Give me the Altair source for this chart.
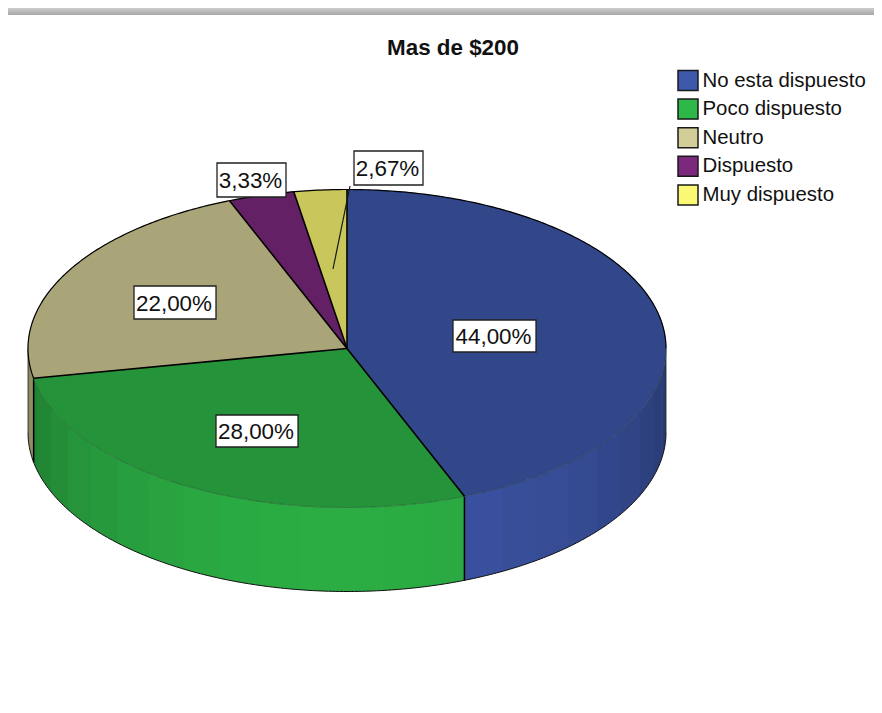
import math
import altair as alt

categories = ["No esta dispuesto", "Poco dispuesto", "Neutro", "Dispuesto", "Muy dispuesto"]
values = [44.0, 28.0, 22.0, 3.33, 2.67]
labels = ["44,00%", "28,00%", "22,00%", "3,33%", "2,67%"]
base_colors = ["#3E58AC", "#2EB848", "#D3CE97", "#7C287D", "#FBF873"]

W, H = 866, 697
CX, CY, RX, RY, DEPTH = 339.0, 340.5, 319.0, 159.0, 84.0
FONT = "Liberation Sans"


def ux(px):
    return (px - CX) / RX


def uy(py):
    return (CY - py) / RY


# label boxes, page geometry minus the 8px margin: left, top, right, bottom
label_boxes = [(445, 312, 528, 344), (208, 407, 290, 439), (126, 278, 208, 311),
               (209, 155, 278, 189), (346, 143, 415, 177)]
leader = [(342, 178), (325, 261)]

x_scale = alt.Scale(domain=[ux(0), ux(W)], range=[0, W], nice=False, zero=False)
y_scale = alt.Scale(domain=[uy(H), uy(0)], range=[H, 0], nice=False, zero=False)
X = alt.X("x:Q", scale=x_scale, axis=None)
Y = alt.Y("y:Q", scale=y_scale, axis=None)


def shade(hex_color, f):
    r, g, b = (int(hex_color[i:i + 2], 16) for i in (1, 3, 5))
    return "#%02x%02x%02x" % (round(r * f), round(g * f), round(b * f))


def pt(deg, drop=0.0):
    a = math.radians(deg)
    return math.sin(a), math.cos(a) - drop / RY


def arc(a0, a1, drop=0.0):
    n = max(2, int(abs(a1 - a0) * 1.5) + 1)
    return [pt(a0 + (a1 - a0) * i / (n - 1), drop) for i in range(n)]


def path(points, **mark):
    rows = [{"x": p[0], "y": p[1], "i": i} for i, p in enumerate(points)]
    return alt.Chart(alt.Data(values=rows)).mark_line(
        interpolate="linear", clip=False, **mark
    ).encode(x=X, y=Y, order="i:Q")


edges = [0.0]
for v in values:
    edges.append(edges[-1] + v * 3.6)

layers = []

# shadow strip along the top of the picture
layers.append(
    alt.Chart(alt.Data(values=[{"a": 0}])).mark_rect(
        color=alt.LinearGradient(
            gradient="linear", x1=0, x2=0, y1=0, y2=1,
            stops=[alt.GradientStop(color="#cccccc", offset=0),
                   alt.GradientStop(color="#a8a8a8", offset=1)],
        )
    ).encode(x=alt.value(0), x2=alt.value(W), y=alt.value(0), y2=alt.value(7))
)

BAND = 7.5


def wall(a0, a1, color, towards_front_first=False):
    """Shaded wall made of narrow vertical bands; every band overlaps the one
    drawn after it so that no seams show."""
    cuts = [a0]
    k = 0.9 + BAND * (math.floor((a0 - 0.9) / BAND) + 1)
    while k < a1:
        cuts.append(k)
        k += BAND
    cuts.append(a1)
    bands = list(zip(cuts[:-1], cuts[1:]))
    if towards_front_first:
        bands = bands[::-1]
    for s, e in bands:
        mid = math.radians((s + e) / 2)
        f = 0.64 + 0.30 * abs(math.cos(mid))
        c = shade(color, f)
        if towards_front_first:
            s2, e2 = s - 0.6 if s > a0 else s, e
        else:
            s2, e2 = s, e + 0.6 if e < a1 else e
        poly = arc(s2, e2) + arc(e2, s2, DEPTH)
        layers.append(path(poly + poly[:1], fill=c, strokeWidth=0, stroke="transparent"))


# side walls: neutral (left), no esta (right), poco (front)
wall(edges[2], 270.0, base_colors[2])
wall(90.0, edges[1], base_colors[0])
wall(edges[1], edges[2], base_colors[1], towards_front_first=True)

# wall outlines
layers.append(path(arc(90.0, 270.0, DEPTH), stroke="#101010", strokeWidth=1.0))
layers.append(path([pt(90.0), pt(90.0, DEPTH)], stroke="#202020", strokeWidth=0.8))
layers.append(path([pt(270.0), pt(270.0, DEPTH)], stroke="#202020", strokeWidth=0.8))
layers.append(path([pt(edges[1]), pt(edges[1], DEPTH)], stroke="black", strokeWidth=1.5))
layers.append(path([pt(edges[2]), pt(edges[2], DEPTH)], stroke="black", strokeWidth=1.5))

# top faces
for i, c in enumerate(base_colors):
    poly = [(0.0, 0.0)] + arc(edges[i], edges[i + 1]) + [(0.0, 0.0)]
    top = shade(c, 0.8)
    layers.append(path(poly, fill=top, stroke=top, strokeWidth=0.4))

# seam of the front edge, outline of the back edge, radial separators
layers.append(path(arc(90.0, edges[2]), stroke="#143018", strokeWidth=0.5, opacity=0.7))
layers.append(path(arc(edges[2], 450.0), stroke="black", strokeWidth=1.2))
for e in edges[:-1]:
    layers.append(path([(0.0, 0.0), pt(e)], stroke="black", strokeWidth=1.6))

# leader of the smallest slice
layers.append(path([(ux(leader[0][0]), uy(leader[0][1])), (ux(leader[1][0]), uy(leader[1][1]))],
                   stroke="#181818", strokeWidth=1.2))

# value labels
rows = [{"label": t, "x": ux(b[0]), "x2": ux(b[2]), "y": uy(b[1]), "y2": uy(b[3]),
         "xc": ux((b[0] + b[2]) / 2), "yc": uy((b[1] + b[3]) / 2)}
        for t, b in zip(labels, label_boxes)]
label_data = alt.Data(values=rows)
layers.append(
    alt.Chart(label_data).mark_rect(fill="white", stroke="#202020", strokeWidth=1.3).encode(
        x=X, x2="x2:Q", y=Y, y2="y2:Q"
    )
)
layers.append(
    alt.Chart(label_data).mark_text(font=FONT, fontSize=22.4, color="#111111", align="center",
                                    baseline="middle", dy=1, dx=-1).encode(
        x=alt.X("xc:Q", scale=x_scale, axis=None),
        y=alt.Y("yc:Q", scale=y_scale, axis=None),
        text="label:N",
    )
)

# legend carrier
legend_rows = [{"cat": c, "x": 0, "y": 0} for c in categories]
layers.append(
    alt.Chart(alt.Data(values=legend_rows)).mark_square(size=0, opacity=0).encode(
        x=X, y=Y,
        fill=alt.Fill(
            "cat:N",
            scale=alt.Scale(domain=categories, range=base_colors),
            sort=None,
            legend=alt.Legend(
                title=None, orient="none", legendX=669, legendY=61.5,
                symbolType="square", symbolSize=400, symbolStrokeColor="#1a1a1a",
                symbolStrokeWidth=1.5, symbolOpacity=1,
                labelFont=FONT, labelFontSize=20.4, labelColor="#111111", labelLimit=300,
                labelOffset=3.5, rowPadding=2.6, padding=0,
            ),
        ),
    )
)

chart = alt.layer(*layers).properties(
    width=W, height=H,
    padding=0,
    background="white",
    view=alt.ViewConfig(stroke=None),
    autosize=alt.AutoSizeParams(type="none"),
    title=alt.TitleParams(
        text="Mas de $200", font=FONT, fontSize=22.4, fontWeight="bold", color="#111111",
        anchor="middle", dx=12, dy=55,
    ),
)

chart.save("out.html", embed_options={"renderer": "svg", "actions": False})
